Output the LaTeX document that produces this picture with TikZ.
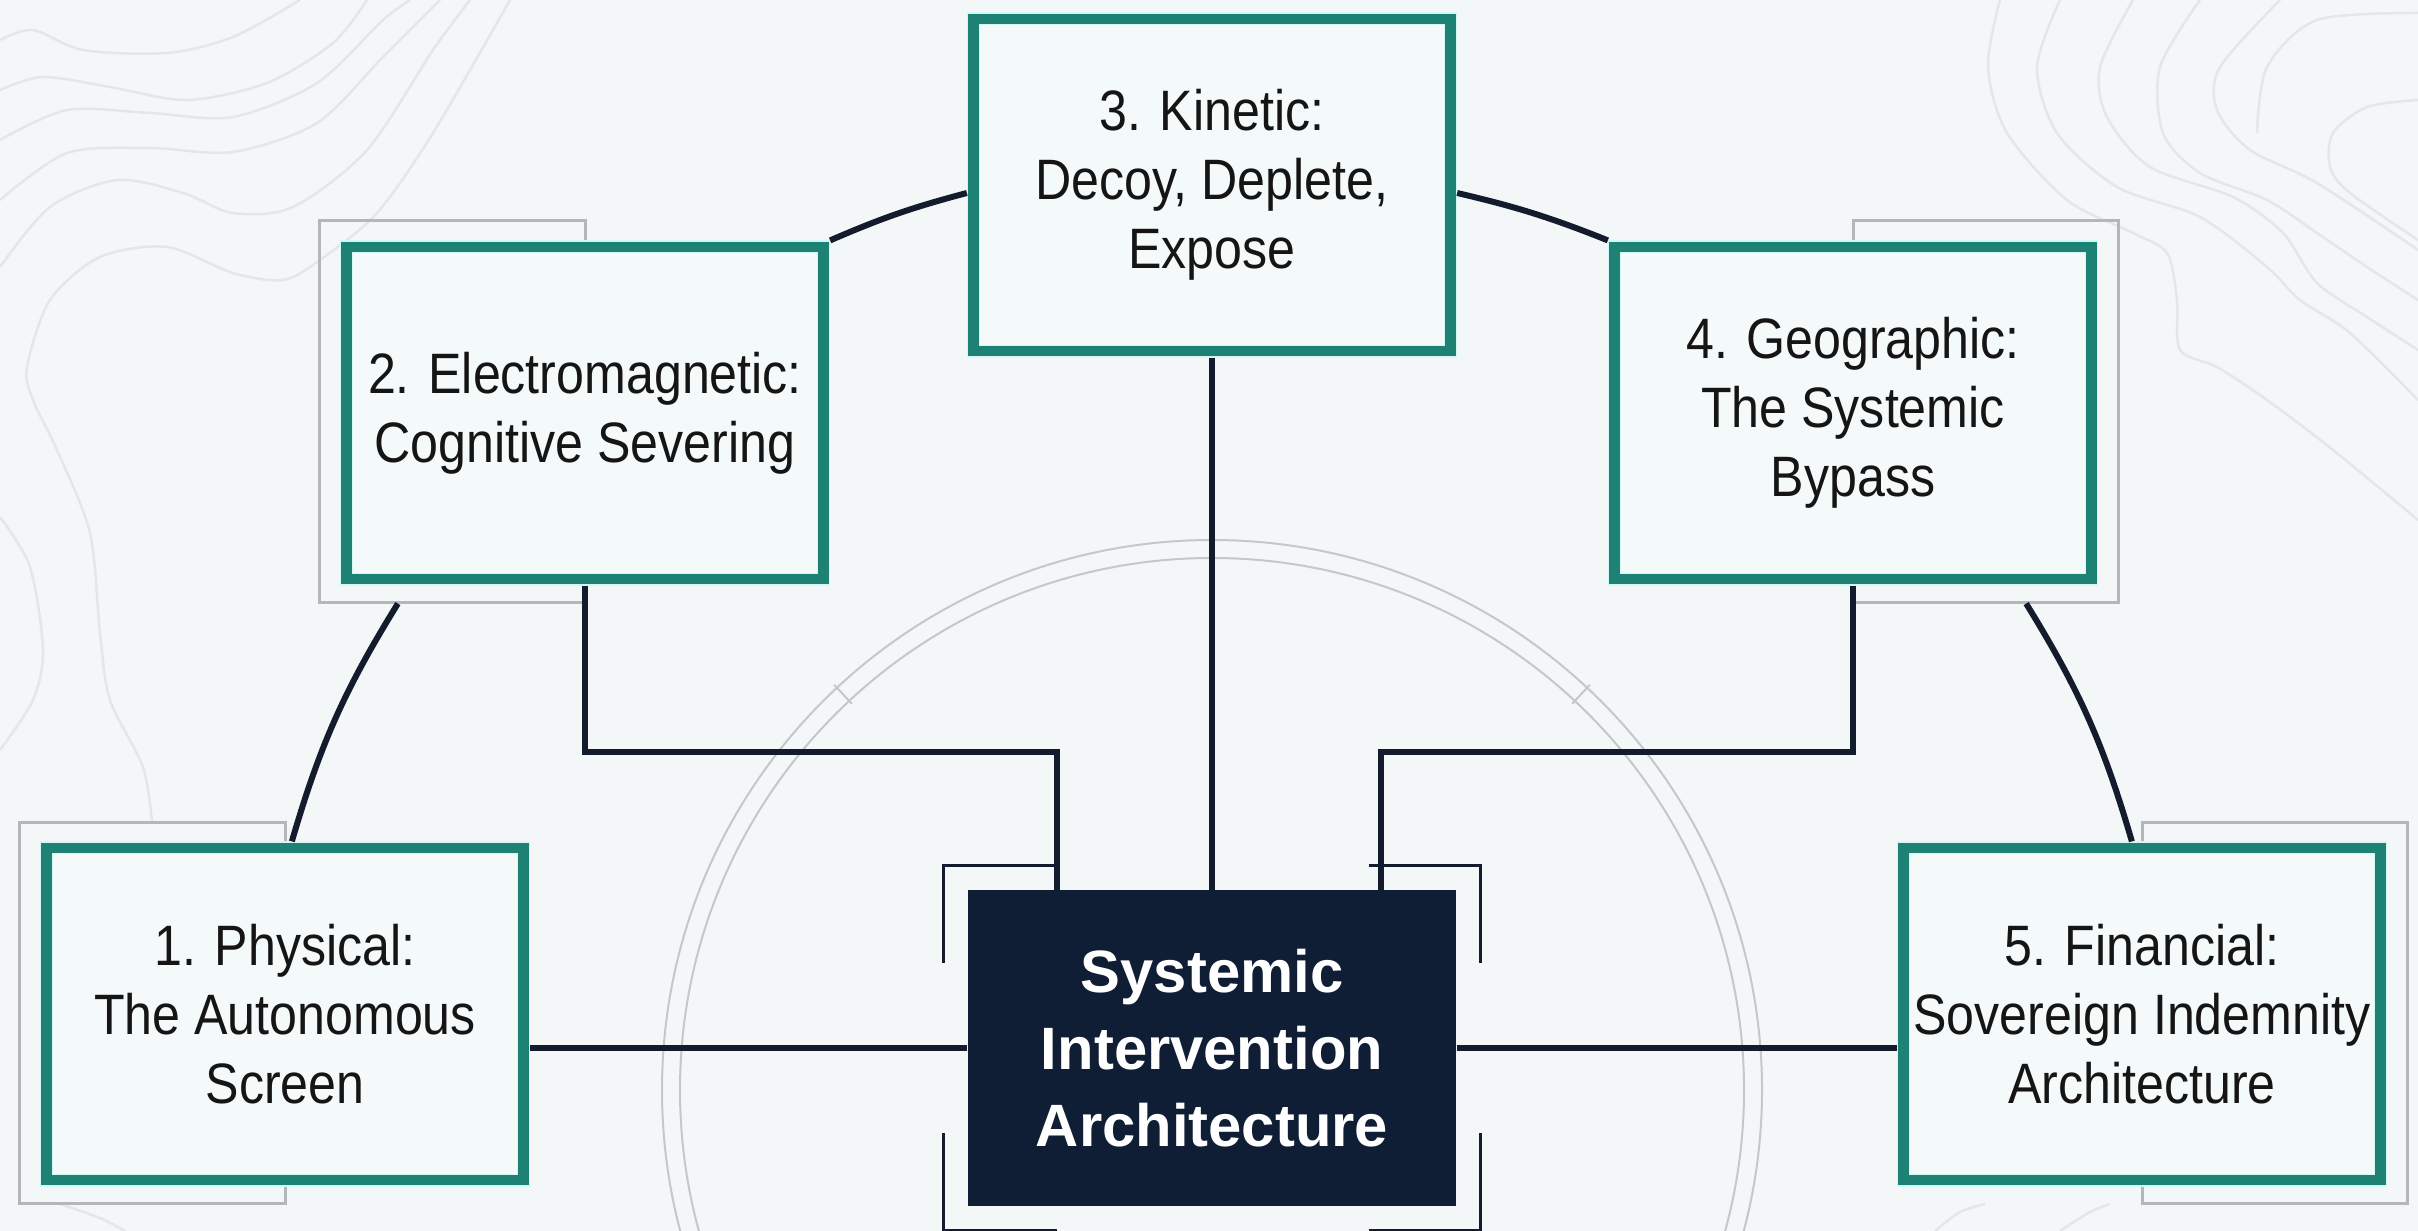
\documentclass[tikz,border=0pt]{standalone}
\usepackage{fontspec}
\setmainfont[FakeStretch=0.88]{Liberation Sans}
\newfontfamily\centerfont{Liberation Sans}
\usetikzlibrary{calc}
\pgfdeclarelayer{background}
\pgfsetlayers{background,main}
\definecolor{bgc}{HTML}{F3F7F8}
\definecolor{boxfill}{HTML}{F4F9F9}
\definecolor{tealc}{HTML}{1D8174}
\definecolor{glowc}{HTML}{D2F7F4}
\definecolor{navyc}{HTML}{121C2C}
\definecolor{centerc}{HTML}{0F1E35}
\definecolor{grayrect}{HTML}{B3B7BA}
\definecolor{circc}{HTML}{C4C8CB}
\definecolor{contourc}{HTML}{E3E7E9}
\definecolor{txtc}{HTML}{151515}
\tikzset{
  tbox/.style={rectangle, draw=glowc, line width=0.012cm, double=tealc, double distance=0.106cm,
    fill=boxfill, minimum width=4.77cm, minimum height=3.32cm, inner sep=0pt, outer sep=0.065cm,
    align=center, text=txtc, font=\fontsize{16.2}{19.6}\selectfont},
  cbox/.style={rectangle, fill=centerc, minimum width=4.88cm, minimum height=3.15cm, inner sep=0pt,
    align=center, text=white, font=\centerfont\bfseries\fontsize{17}{22}\selectfont},
  conn/.style={draw=navyc, line width=0.06cm},
  brk/.style={draw=navyc, line width=0.03cm},
  shadowrect/.style={draw=grayrect, line width=0.03cm},
  circline/.style={draw=circc, line width=0.02cm},
  contour/.style={draw=contourc, line width=0.025cm},
}
\begin{document}
\begin{tikzpicture}[x=0.01cm, y=-0.01cm]
\useasboundingbox (0,0) rectangle (2418,1231);

% ---- nodes ----
\node[tbox] (b3) at (1212,185) {3. Kinetic:\\Decoy, Deplete,\\Expose};
\node[tbox] (b2) at (585,413) {2. Electromagnetic:\\Cognitive Severing};
\node[tbox] (b4) at (1853,413) {4. Geographic:\\The Systemic\\Bypass};
\node[tbox] (b1) at (285,1014) {1. Physical:\\The Autonomous\\Screen};
\node[tbox] (b5) at (2142,1014) {5. Financial:\\Sovereign Indemnity\\Architecture};
\node[cbox] (c) at (1212,1048) {Systemic\\Intervention\\Architecture};

% ---- background decoration ----
\begin{pgfonlayer}{background}
\fill[bgc] (0,0) rectangle (2418,1231);
\begin{scope}[contour]
\draw plot[smooth] coordinates {(0,40) (33,30) (83,50) (167,53) (233,37) (300,0)};
\draw plot[smooth] coordinates {(0,90) (43,77) (110,87) (187,100) (267,83) (333,43) (367,0)};
\draw plot[smooth] coordinates {(0,140) (67,110) (150,113) (233,117) (317,83) (383,20) (410,0)};
\draw plot[smooth] coordinates {(0,200) (67,153) (150,148) (233,152) (317,123) (383,57) (440,0)};
\draw plot[smooth] coordinates {(0,267) (50,207) (117,180) (183,193) (233,213) (293,207) (367,150) (433,50) (470,0)};
\draw plot[smooth] coordinates {(510,0) (433,133) (377,213) (320,260) (283,280) (233,273) (167,247) (100,257) (50,300) (27,367) (33,400) (57,450) (90,533) (100,633) (110,700) (143,767) (152,823)};
\draw plot[smooth] coordinates {(0,517) (30,567) (43,650) (33,700) (0,750)};
\draw plot[smooth] coordinates {(2000,0) (1988,67) (2007,133) (2067,200) (2133,233) (2167,253) (2177,300) (2180,350) (2217,367) (2267,400) (2333,450) (2418,520)};
\draw plot[smooth] coordinates {(2060,0) (2037,67) (2057,133) (2117,187) (2200,217) (2267,267) (2300,300) (2350,333) (2418,400)};
\draw plot[smooth] coordinates {(2133,0) (2100,67) (2107,117) (2150,167) (2233,197) (2283,233) (2317,283) (2367,317) (2418,350)};
\draw plot[smooth] coordinates {(2200,0) (2160,67) (2163,133) (2200,173) (2267,200) (2317,233) (2367,267) (2418,300)};
\draw plot[smooth] coordinates {(2280,0) (2220,67) (2217,110) (2250,150) (2317,183) (2418,250)};
\draw plot[smooth] coordinates {(2418,13) (2317,20) (2267,67) (2257,133)};
\draw plot[smooth] coordinates {(2418,100) (2367,107) (2333,133) (2330,167) (2350,193) (2418,240)};
\draw plot[smooth] coordinates {(1935,1231) (1960,1212) (1985,1204)};
\draw plot[smooth] coordinates {(2060,1231) (2090,1212) (2110,1204)};
\draw plot[smooth] coordinates {(60,1204) (100,1218) (125,1231)};
\end{scope}
% concentric circles behind the centre
\draw[circline] (1212,1090) circle[radius=550];
\draw[circline] (1212,1090) circle[radius=532];
\draw[circline] ($(1212,1090)+(-133:528)$) -- ($(1212,1090)+(-133:554)$);
\draw[circline] ($(1212,1090)+(-47:528)$) -- ($(1212,1090)+(-47:554)$);
% offset frames behind the boxes
\draw[shadowrect] ($(b2.north west)+(-20,-20)$) rectangle ($(b2.south)+(0,17)$);
\draw[shadowrect] ($(b1.north west)+(-20,-19)$) rectangle ($(b1.south)+(0,17)$);
\draw[shadowrect] ($(b4.north east)+(20,-20)$) rectangle ($(b4.south)+(0,17)$);
\draw[shadowrect] ($(b5.north east)+(20,-19)$) rectangle ($(b5.south)+(0,17)$);
\end{pgfonlayer}

% ---- connectors ----
\draw[conn] (b3) -- (c);
\draw[conn] (c.west -| b1.east) -- (c.west);
\draw[conn] (c.east) -- (c.east -| b5.west);
\draw[conn] (b2.south) -- ++(0,166) -| ($(c.north west)+(90,0)$);
\draw[conn] (b4.south) -- ++(0,166) -| ($(c.north east)+(-76,0)$);
\draw[conn] ($(b2.south west)+(58,18)$) to[bend right=7.7] ($(b1.north west)+(252,0)$);
\draw[conn] (b2.north east) to[bend left=4.3] ($(b3.west)+(0,8)$);
\draw[conn] ($(b3.east)+(0,8)$) to[bend left=4.3] (b4.north west);
\draw[conn] ($(b4.south east)+(-72,18)$) to[bend left=7.7] ($(b5.north west)+(235,0)$);

% ---- corner brackets round the centre ----
\draw[brk] ($(c.north west)+(-24,73)$) |- ($(c.north west)+(90,-24)$);
\draw[brk] ($(c.north east)+(24,73)$) |- ($(c.north east)+(-88,-24)$);
\draw[brk] ($(c.south west)+(-24,-73)$) |- ($(c.south west)+(90,24)$);
\draw[brk] ($(c.south east)+(24,-73)$) |- ($(c.south east)+(-88,24)$);
\end{tikzpicture}
\end{document}
